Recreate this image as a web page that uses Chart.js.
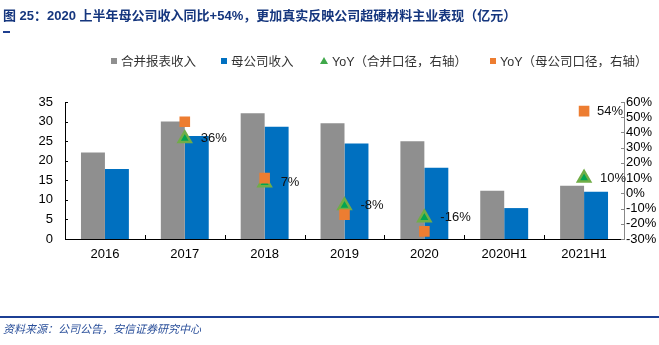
<!DOCTYPE html>
<html>
<head>
<meta charset="utf-8">
<script src="https://cdn.jsdelivr.net/npm/chart.js@4/dist/chart.umd.min.js"></script>
<style>
  html, body { margin: 0; padding: 0; background: #fff; }
  #wrap { position: relative; width: 659px; height: 345px; overflow: hidden; }
  #chart { position: absolute; left: 0; top: 0; }
  .title { position: absolute; left: 3px; top: 5px; font: bold 13px "Liberation Sans", "Noto Sans CJK SC", sans-serif; color: #15367e; white-space: nowrap; }
  .title-mark { position: absolute; left: 3px; top: 31px; width: 7px; height: 2px; background: #1f3f8f; }
  .legend { position: absolute; top: 54px; font: 12.5px "Liberation Sans", "Noto Sans CJK SC", sans-serif; color: #333; white-space: nowrap; line-height: 16px; }
  .legend i { display: inline-block; width: 6px; height: 6px; margin-right: 4px; vertical-align: 2px; }
  .legend i.tri { width: 0; height: 0; border-left: 4px solid transparent; border-right: 4px solid transparent; border-bottom: 7px solid #3fa84a; }
  .bottom-line { position: absolute; left: 0; top: 316px; width: 659px; height: 2px; background: #1c3f94; }
  .source { position: absolute; left: 3px; top: 320px; font: italic 11px "Noto Sans CJK SC", sans-serif; color: #2a4f9a; white-space: nowrap; }
</style>
</head>
<body>
<div id="wrap">
  <canvas id="chart" width="659" height="345"></canvas>
  <div class="title">图 25：2020 上半年母公司收入同比+54%，更加真实反映公司超硬材料主业表现（亿元）</div>
  <div class="title-mark"></div>
  <div class="legend" style="left:111px"><i style="background:#8f8f8f"></i>合并报表收入</div>
  <div class="legend" style="left:221px"><i style="background:#0070c0"></i>母公司收入</div>
  <div class="legend" style="left:320px"><i class="tri"></i>YoY（合并口径，右轴）</div>
  <div class="legend" style="left:490px"><i style="background:#ed7d31"></i>YoY（母公司口径，右轴）</div>
  <div class="bottom-line"></div>
  <div class="source">资料来源：公司公告，安信证券研究中心</div>
</div>
<script>
var categories = ['2016', '2017', '2018', '2019', '2020', '2020H1', '2021H1'];
var mergedRevenue = [22.1, 30.0, 32.1, 29.6, 25.0, 12.3, 13.6];
var parentRevenue = [17.9, 26.3, 28.7, 24.4, 18.2, 7.9, 12.1];
var yoyMerged = [null, 36, 7, -8, -16, null, 10];
var yoyParent = [null, 47, 10, -14, -25, null, 54];
var yoyMergedText = ['', '36%', '7%', '-8%', '-16%', '', '10%'];
var yoyParentText = ['', '', '', '', '', '', '54%'];

// 数据标签 + 向内的刻度线
var extras = {
  id: 'extras',
  afterDatasetsDraw: function (chart) {
    var ctx = chart.ctx;
    ctx.save();
    ctx.font = '13px "Liberation Sans", sans-serif';
    ctx.fillStyle = '#111';
    ctx.textBaseline = 'middle';
    ctx.textAlign = 'left';
    var sets = [[2, yoyMergedText, 16], [3, yoyParentText, 13]];
    sets.forEach(function (s) {
      var meta = chart.getDatasetMeta(s[0]);
      meta.data.forEach(function (pt, i) {
        if (s[1][i]) ctx.fillText(s[1][i], pt.x + s[2], pt.y);
      });
    });
    ctx.restore();
  },
  afterDraw: function (chart) {
    var ctx = chart.ctx;
    var x = chart.scales.x, y = chart.scales.y, y1 = chart.scales.y1;
    ctx.save();
    ctx.lineWidth = 1;
    ctx.strokeStyle = '#000';
    ctx.beginPath();
    y.ticks.forEach(function (t, i) {
      var py = Math.round(y.getPixelForTick(i)) + 0.5;
      ctx.moveTo(y.right, py);
      ctx.lineTo(y.right + 3, py);
    });
    for (var i = 1; i < categories.length; i++) {
      var px = Math.round(x.getPixelForValue(i - 0.5)) + 0.5;
      ctx.moveTo(px, x.top);
      ctx.lineTo(px, x.top - 4);
    }
    ctx.stroke();
    ctx.strokeStyle = '#888';
    ctx.beginPath();
    y1.ticks.forEach(function (t, i) {
      var py = Math.round(y1.getPixelForTick(i)) + 0.5;
      ctx.moveTo(y1.left, py);
      ctx.lineTo(y1.left - 3, py);
    });
    ctx.stroke();
    ctx.restore();
  }
};

var tickFont = { family: '"Liberation Sans", sans-serif', size: 13 };

new Chart(document.getElementById('chart').getContext('2d'), {
  type: 'bar',
  data: {
    labels: categories,
    datasets: [
      { label: '合并报表收入', data: mergedRevenue, backgroundColor: '#8f8f8f', yAxisID: 'y', order: 3 },
      { label: '母公司收入', data: parentRevenue, backgroundColor: '#0070c0', yAxisID: 'y', order: 3 },
      {
        type: 'line', label: 'YoY（合并口径，右轴）', data: yoyMerged, yAxisID: 'y1', showLine: false,
        pointStyle: 'triangle', pointRadius: 7, pointBorderWidth: 2.5,
        pointBackgroundColor: '#00a651', pointBorderColor: '#70ad47', order: 1
      },
      {
        type: 'line', label: 'YoY（母公司口径，右轴）', data: yoyParent, yAxisID: 'y1', showLine: false,
        pointStyle: 'rect', pointRadius: 7.5, pointBorderWidth: 0,
        pointBackgroundColor: '#ed7d31', pointBorderColor: '#ed7d31', order: 0
      }
    ]
  },
  options: {
    responsive: false,
    animation: false,
    devicePixelRatio: 1,
    layout: { padding: { top: 102, left: 0, right: 0, bottom: 0 } },
    datasets: { bar: { categoryPercentage: 0.6, barPercentage: 1.0 } },
    plugins: { legend: { display: false }, tooltip: { enabled: false } },
    scales: {
      x: {
        grid: { display: false, drawTicks: false },
        border: { display: true, color: '#000', width: 1 },
        ticks: { color: '#000', font: tickFont, padding: 8 },
        afterFit: function (s) { s.height = 106; }
      },
      y: {
        position: 'left', min: 0, max: 35,
        grid: { display: false, drawTicks: false },
        border: { display: true, color: '#000', width: 1 },
        ticks: { stepSize: 5, color: '#000', font: tickFont, padding: 12, autoSkip: false },
        afterFit: function (s) { s.width = 65; }
      },
      y1: {
        position: 'right', min: -30, max: 60,
        grid: { display: false, drawTicks: false },
        border: { display: true, color: '#888', width: 1 },
        ticks: { stepSize: 10, color: '#000', font: tickFont, padding: 2, autoSkip: false, callback: function (v) { return v + '%'; } },
        afterFit: function (s) { s.width = 35; }
      }
    }
  },
  plugins: [extras]
});
</script>
</body>
</html>
